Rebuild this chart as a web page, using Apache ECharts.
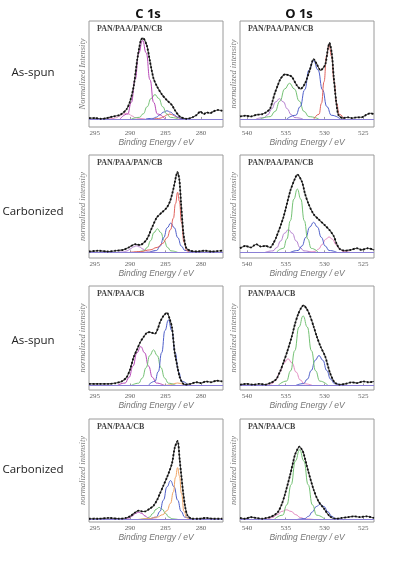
<!DOCTYPE html>
<html><head><meta charset="utf-8">
<script src="https://cdn.jsdelivr.net/npm/echarts@6/dist/echarts.min.js"></script>
<style>html,body{margin:0;padding:0;background:#fff}#c{width:396px;height:563px}</style>
</head><body><div id="c"></div>
<script>
// ---------- text ----------
const columnTitles = ['C 1s', 'O 1s'];
const rowLabels = ['As-spun', 'Carbonized', 'As-spun', 'Carbonized'];
const sampleLabels = ['PAN/PAA/PAN/CB', 'PAN/PAA/PAN/CB', 'PAN/PAA/CB', 'PAN/PAA/CB'];
const yTitles = ['Normalized Intensity', 'normalized intensity', 'normalized intensity', 'normalized intensity',
                 'normalized intensity', 'normalized intensity', 'normalized intensity', 'normalized intensity'];
const xTitle = 'Binding Energy / eV';
const c1sTicks = [280, 285, 290, 295];
const o1sTicks = [525, 530, 535, 540];
const c1sRange = [276.9, 295.8];
const o1sRange = [523.6, 540.9];

// ---------- panel 1 : C 1s, as-spun PAN/PAA/PAN/CB ----------
const p1Data = [[295.8,0.01],[295.0,0.01],[294.0,0.0],[293.3,0.01],[292.4,0.03],[291.4,0.05],[290.5,0.12],[290.0,0.22],[289.5,0.40],[289.0,0.73],[288.5,0.97],[288.2,1.0],[287.65,0.91],[287.2,0.71],[286.7,0.50],[286.2,0.40],[285.5,0.30],[284.8,0.23],[284.1,0.17],[283.7,0.11],[283.0,0.03],[282.0,0.0],[281.2,0.02],[280.6,0.05],[280.1,0.09],[279.6,0.06],[279.2,0.08],[278.7,0.07],[278.3,0.09],[277.6,0.11],[277.0,0.10]];
const p1Magenta = [[285.1,0],[286.15,0.061],[286.68,0.204],[287.2,0.485],[287.73,0.816],[288.25,0.97],[288.78,0.816],[289.3,0.485],[289.83,0.204],[290.35,0.061],[291.4,0]];
const p1Green = [[283.2,0],[284.3,0.019],[284.85,0.063],[285.4,0.15],[285.95,0.252],[286.5,0.30],[287.05,0.252],[287.6,0.15],[288.15,0.063],[288.7,0.019],[289.8,0]];
const p1Blue = [[281.8,0],[282.8,0.006],[283.3,0.021],[283.8,0.05],[284.3,0.084],[284.8,0.10],[285.3,0.084],[285.8,0.05],[286.3,0.021],[286.8,0.006],[287.8,0]];
const p1Red = [[282.0,0],[282.8,0.004],[283.2,0.013],[283.6,0.03],[284.0,0.05],[284.4,0.06],[284.8,0.05],[285.2,0.03],[285.6,0.013],[286.0,0.004],[286.8,0]];
const p1Pink = [[287.9,0],[288.8,0.004],[289.25,0.015],[289.7,0.035],[290.15,0.059],[290.6,0.07],[291.05,0.059],[291.5,0.035],[291.95,0.015],[292.4,0.004],[293.3,0]];

// ---------- panel 2 : O 1s, as-spun PAN/PAA/PAN/CB ----------
const p2Data = [[540.9,0.03],[540.2,0.04],[539.5,0.03],[538.8,0.05],[538.0,0.06],[537.4,0.09],[537.0,0.13],[536.7,0.22],[536.4,0.32],[536.0,0.42],[535.7,0.49],[535.1,0.55],[534.6,0.54],[534.2,0.52],[533.6,0.42],[533.1,0.37],[532.5,0.44],[531.9,0.60],[531.4,0.74],[531.0,0.68],[530.5,0.60],[529.9,0.67],[529.55,0.87],[529.35,0.94],[529.05,0.81],[528.8,0.52],[528.5,0.23],[528.2,0.05],[527.6,0.01],[527.0,0.02],[526.4,0.01],[525.8,0.02],[525.2,0.02],[524.6,0.05],[524.1,0.07],[523.6,0.06]];
const p2Red = [[527.45,0],[528.1,0.058],[528.43,0.193],[528.75,0.46],[529.08,0.774],[529.4,0.92],[529.73,0.774],[530.05,0.46],[530.38,0.193],[530.7,0.058],[531.35,0]];
const p2Blue = [[527.95,0],[529.1,0.045],[529.68,0.151],[530.25,0.36],[530.83,0.606],[531.4,0.72],[531.98,0.606],[532.55,0.36],[533.13,0.151],[533.7,0.045],[534.85,0]];
const p2Green = [[530.75,0],[532.0,0.028],[532.63,0.092],[533.25,0.22],[533.88,0.37],[534.5,0.44],[535.13,0.37],[535.75,0.22],[536.38,0.092],[537.0,0.028],[538.25,0]];
const p2Purple = [[532.8,0],[533.8,0.016],[534.3,0.053],[534.8,0.125],[535.3,0.21],[535.8,0.25],[536.3,0.21],[536.8,0.125],[537.3,0.053],[537.8,0.016],[538.8,0]];

// ---------- panel 3 : C 1s, carbonized PAN/PAA/PAN/CB ----------
const p3Data = [[295.8,0.01],[294.5,0.02],[293.2,0.01],[292.0,0.02],[291.0,0.03],[290.2,0.06],[289.3,0.10],[288.6,0.09],[287.65,0.16],[286.94,0.30],[286.24,0.43],[285.54,0.49],[284.83,0.55],[284.37,0.63],[283.9,0.78],[283.52,0.94],[283.34,0.99],[283.06,0.90],[282.82,0.61],[282.49,0.24],[282.11,0.06],[281.55,0.02],[280.5,0.01],[279.5,0.02],[278.5,0.01],[277.0,0.02]];
const p3Red = [[281.6,0],[282.0,0.02],[282.4,0.12],[282.75,0.37],[283.05,0.63],[283.3,0.74],[283.6,0.6],[283.9,0.42],[284.3,0.28],[284.8,0.18],[285.4,0.11],[286.2,0.06],[287.2,0.03],[288.5,0.01],[290.0,0]];
const p3Blue = [[281.27,0],[282.27,0.023],[282.77,0.076],[283.27,0.18],[283.77,0.303],[284.27,0.36],[284.77,0.303],[285.27,0.18],[285.77,0.076],[286.27,0.023],[287.27,0]];
const p3Green = [[283.3,0],[284.25,0.018],[284.73,0.061],[285.2,0.145],[285.68,0.244],[286.15,0.29],[286.63,0.244],[287.1,0.145],[287.58,0.061],[288.05,0.018],[289.0,0]];
const p3Purple = [[286.4,0],[287.3,0.005],[287.75,0.017],[288.2,0.04],[288.65,0.067],[289.1,0.08],[289.55,0.067],[290.0,0.04],[290.45,0.017],[290.9,0.005],[291.8,0]];

// ---------- panel 4 : O 1s, carbonized PAN/PAA/PAN/CB ----------
const p4Data = [[540.9,0.05],[540.2,0.08],[539.5,0.06],[538.8,0.1],[538.2,0.07],[537.6,0.08],[537.0,0.06],[536.6,0.11],[536.2,0.19],[535.3,0.43],[534.4,0.76],[533.8,0.91],[533.5,0.96],[532.9,0.87],[532.5,0.72],[532.07,0.6],[531.4,0.47],[530.78,0.41],[529.9,0.33],[529.3,0.27],[528.8,0.2],[528.4,0.1],[528.0,0.04],[527.4,0.02],[526.6,0.03],[525.8,0.05],[525.2,0.03],[524.4,0.05],[523.6,0.03]];
const p4Green = [[530.8,0],[531.7,0.049],[532.15,0.164],[532.6,0.39],[533.05,0.656],[533.5,0.78],[533.95,0.656],[534.4,0.39],[534.85,0.164],[535.3,0.049],[536.2,0]];
const p4Purple = [[531.65,0],[532.65,0.018],[533.15,0.059],[533.65,0.14],[534.15,0.235],[534.65,0.28],[535.15,0.235],[535.65,0.14],[536.15,0.059],[536.65,0.018],[537.65,0]];
const p4Blue = [[528.4,0],[529.4,0.023],[529.9,0.078],[530.4,0.185],[530.9,0.311],[531.4,0.37],[531.9,0.311],[532.4,0.185],[532.9,0.078],[533.4,0.023],[534.4,0]];
const p4Pink = [[526.7,0],[527.6,0.012],[528.05,0.04],[528.5,0.095],[528.95,0.16],[529.4,0.19],[529.85,0.16],[530.3,0.095],[530.75,0.04],[531.2,0.012],[532.1,0]];

// ---------- panel 5 : C 1s, as-spun PAN/PAA/CB ----------
const p5Data = [[295.8,0.02],[294.5,0.02],[293.0,0.02],[292.0,0.03],[291.2,0.05],[290.5,0.1],[290.0,0.2],[289.5,0.35],[289.0,0.45],[288.6,0.53],[288.1,0.6],[287.65,0.65],[287.2,0.66],[286.85,0.65],[286.5,0.64],[286.1,0.7],[285.8,0.78],[285.3,0.86],[284.8,0.9],[284.45,0.83],[284.1,0.72],[283.7,0.4],[283.3,0.22],[283.0,0.1],[282.6,0.03],[282.3,0.01],[281.5,0.02],[280.7,0.04],[280.0,0.03],[279.3,0.05],[278.6,0.04],[277.8,0.06],[277.0,0.05]];
const p5Blue = [[281.75,0],[282.7,0.051],[283.18,0.17],[283.65,0.405],[284.13,0.681],[284.6,0.81],[285.08,0.681],[285.55,0.405],[286.03,0.17],[286.5,0.051],[287.45,0]];
const p5Green = [[283.55,0],[284.6,0.028],[285.13,0.092],[285.65,0.22],[286.18,0.37],[286.7,0.44],[287.23,0.37],[287.75,0.22],[288.28,0.092],[288.8,0.028],[289.85,0]];
const p5Magenta = [[285.2,0],[286.3,0.03],[286.85,0.1],[287.4,0.24],[287.95,0.404],[288.5,0.48],[289.05,0.404],[289.6,0.24],[290.15,0.1],[290.7,0.03],[291.8,0]];
const p5Orange = [[280.9,0],[281.7,0.002],[282.1,0.006],[282.5,0.015],[282.9,0.025],[283.3,0.03],[283.7,0.025],[284.1,0.015],[284.5,0.006],[284.9,0.002],[285.7,0]];

// ---------- panel 6 : O 1s, as-spun PAN/PAA/CB ----------
const p6Data = [[540.9,0.01],[540.0,0.02],[539.2,0.01],[538.4,0.02],[537.6,0.01],[537.0,0.03],[536.6,0.05],[536.2,0.08],[535.7,0.18],[535.3,0.28],[534.8,0.42],[534.2,0.61],[533.8,0.76],[533.4,0.88],[533.0,0.96],[532.7,0.99],[532.3,0.95],[531.85,0.86],[531.4,0.73],[531.0,0.61],[530.5,0.48],[529.9,0.36],[529.3,0.16],[528.9,0.07],[528.6,0.03],[528.0,0.01],[527.3,0.02],[526.5,0.04],[525.8,0.03],[525.0,0.05],[524.3,0.04],[523.6,0.05]];
const p6Green = [[529.53,0],[530.6,0.054],[531.14,0.181],[531.68,0.43],[532.21,0.723],[532.75,0.86],[533.29,0.723],[533.83,0.43],[534.36,0.181],[534.9,0.054],[535.98,0]];
const p6Magenta = [[531.55,0],[532.6,0.021],[533.13,0.069],[533.65,0.165],[534.18,0.278],[534.7,0.33],[535.23,0.278],[535.75,0.165],[536.28,0.069],[536.8,0.021],[537.85,0]];
const p6Blue = [[527.7,0],[528.7,0.023],[529.2,0.078],[529.7,0.185],[530.2,0.311],[530.7,0.37],[531.2,0.311],[531.7,0.185],[532.2,0.078],[532.7,0.023],[533.7,0]];

// ---------- panel 7 : C 1s, carbonized PAN/PAA/CB ----------
const p7Data = [[295.8,0.01],[294.5,0.01],[293.0,0.02],[291.5,0.01],[290.6,0.02],[290.0,0.04],[289.4,0.08],[288.8,0.11],[288.3,0.1],[287.9,0.1],[287.3,0.13],[286.7,0.17],[286.2,0.24],[285.8,0.32],[285.3,0.42],[284.8,0.52],[284.1,0.69],[283.7,0.89],[283.3,0.97],[283.0,0.73],[282.75,0.52],[282.5,0.32],[282.2,0.14],[281.9,0.05],[281.3,0.01],[280.3,0.01],[279.3,0.02],[278.3,0.01],[277.0,0.01]];
const p7Orange = [[281.6,0],[282.0,0.02],[282.4,0.1],[282.75,0.32],[283.05,0.54],[283.3,0.64],[283.6,0.52],[283.9,0.34],[284.3,0.2],[284.8,0.11],[285.4,0.06],[286.2,0.03],[287.5,0.01],[289.0,0]];
const p7Blue = [[281.3,0],[282.3,0.03],[282.8,0.101],[283.3,0.24],[283.8,0.404],[284.3,0.48],[284.8,0.404],[285.3,0.24],[285.8,0.101],[286.3,0.03],[287.3,0]];
const p7Green = [[283.2,0],[284.1,0.009],[284.55,0.032],[285.0,0.075],[285.45,0.126],[285.9,0.15],[286.35,0.126],[286.8,0.075],[287.25,0.032],[287.7,0.009],[288.6,0]];
const p7Magenta = [[286.1,0],[287.0,0.006],[287.45,0.019],[287.9,0.045],[288.35,0.076],[288.8,0.09],[289.25,0.076],[289.7,0.045],[290.15,0.019],[290.6,0.006],[291.5,0]];

// ---------- panel 8 : O 1s, carbonized PAN/PAA/CB ----------
const p8Data = [[540.9,0.02],[540.2,0.01],[539.5,0.03],[538.8,0.02],[538.0,0.01],[537.5,0.02],[537.0,0.03],[536.4,0.06],[535.95,0.1],[535.5,0.19],[535.1,0.31],[534.4,0.56],[533.8,0.8],[533.4,0.88],[533.2,0.9],[532.9,0.86],[532.7,0.82],[532.1,0.6],[531.4,0.37],[530.8,0.23],[530.1,0.14],[529.3,0.04],[528.5,0.01],[527.8,0.02],[527.0,0.03],[526.2,0.04],[525.4,0.03],[524.6,0.04],[523.6,0.02]];
const p8Green = [[529.9,0],[531.0,0.054],[531.55,0.181],[532.1,0.43],[532.65,0.723],[533.2,0.86],[533.75,0.723],[534.3,0.43],[534.85,0.181],[535.4,0.054],[536.5,0]];
const p8Magenta = [[531.3,0],[532.5,0.008],[533.1,0.025],[533.7,0.06],[534.3,0.101],[534.9,0.12],[535.5,0.101],[536.1,0.06],[536.7,0.025],[537.3,0.008],[538.5,0]];
const p8Blue = [[527.55,0],[528.55,0.012],[529.05,0.04],[529.55,0.095],[530.05,0.16],[530.55,0.19],[531.05,0.16],[531.55,0.095],[532.05,0.04],[532.55,0.012],[533.55,0]];

// ---------- styles / layout ----------
const COL = {magenta:'#b848b8', purple:'#b47fcf', pink:'#e58cc2', green:'#74c274', blue:'#4f5fca', red:'#e2625c', orange:'#f0a464'};
const colLeft = [89, 240], colWidth = 134;
const rowTop = [21, 155, 286, 419], rowHeight = [106, 103, 104, 103];
const rowYMin = [-0.1, -0.07, -0.056, -0.03], rowYMax = [1.21, 1.2, 1.23, 1.24];
const rowLabelY = [73, 212, 341, 470];

const panels = [
  {row:0, col:0, data:p1Data, comps:[[p1Pink,'pink'],[p1Red,'red'],[p1Blue,'blue'],[p1Green,'green'],[p1Magenta,'magenta']]},
  {row:0, col:1, data:p2Data, comps:[[p2Purple,'purple'],[p2Green,'green'],[p2Blue,'blue'],[p2Red,'red']]},
  {row:1, col:0, data:p3Data, comps:[[p3Purple,'purple'],[p3Green,'green'],[p3Blue,'blue'],[p3Red,'red']]},
  {row:1, col:1, data:p4Data, comps:[[p4Purple,'purple'],[p4Pink,'pink'],[p4Blue,'blue'],[p4Green,'green']]},
  {row:2, col:0, data:p5Data, comps:[[p5Orange,'orange'],[p5Magenta,'magenta'],[p5Green,'green'],[p5Blue,'blue']]},
  {row:2, col:1, data:p6Data, comps:[[p6Magenta,'pink'],[p6Blue,'blue'],[p6Green,'green']]},
  {row:3, col:0, data:p7Data, comps:[[p7Magenta,'magenta'],[p7Green,'green'],[p7Blue,'blue'],[p7Orange,'orange']]},
  {row:3, col:1, data:p8Data, comps:[[p8Magenta,'pink'],[p8Blue,'blue'],[p8Green,'green']]}
];

const grid = [], xAxis = [], yAxis = [], series = [], graphic = [];
panels.forEach((p, i) => {
  grid.push({left: colLeft[p.col], top: rowTop[p.row], width: colWidth, height: rowHeight[p.row],
    show: true, borderColor: '#9a9a9a', borderWidth: 1, backgroundColor: '#fff'});
  const rng = p.col === 0 ? c1sRange : o1sRange;
  const ticks = p.col === 0 ? c1sTicks : o1sTicks;
  xAxis.push({type: 'value', gridIndex: i, min: rng[0], max: rng[1], inverse: true,
    axisLine: {show: false}, splitLine: {show: false},
    axisTick: {show: true, inside: true, length: 2, customValues: ticks, lineStyle: {color: '#999'}},
    axisLabel: {customValues: ticks, margin: 3, fontFamily: 'Liberation Serif', fontSize: 7, color: '#666'},
    name: xTitle, nameLocation: 'middle', nameGap: 11,
    nameTextStyle: {fontFamily: 'Liberation Sans', fontStyle: 'italic', fontSize: 8.5, color: '#777'}});
  yAxis.push({type: 'value', gridIndex: i, min: rowYMin[p.row], max: rowYMax[p.row],
    axisLine: {show: false}, axisTick: {show: false}, axisLabel: {show: false}, splitLine: {show: false},
    name: yTitles[i], nameLocation: 'middle', nameGap: 2, nameRotate: 90,
    nameTextStyle: {fontFamily: 'Liberation Serif', fontStyle: 'italic', fontSize: 8.5, color: '#7a7a7a'}});
  p.comps.forEach((c, k) => {
    const s = {type: 'line', xAxisIndex: i, yAxisIndex: i, data: c[0], smooth: 0.5, smoothMonotone: 'x',
      showSymbol: false, silent: true, z: 2, lineStyle: {color: COL[c[1]], width: 1}};
    if (k === 0) {
      s.markLine = {silent: true, symbol: 'none', label: {show: false},
        lineStyle: {color: '#8a7fd6', width: 1, type: 'solid'}, data: [{yAxis: 0}]};
    }
    series.push(s);
  });
  series.push({type: 'line', xAxisIndex: i, yAxisIndex: i, data: p.data, smooth: 0.25,
    showSymbol: false, silent: true, z: 4, lineStyle: {color: '#444', width: 1.1}});
  series.push({type: 'line', xAxisIndex: i, yAxisIndex: i, data: p.data, smooth: 0.25,
    showSymbol: false, silent: true, z: 5, lineStyle: {color: '#111', width: 1.8, type: 'dotted'}});
  graphic.push({type: 'text', x: colLeft[p.col] + 8, y: rowTop[p.row] + 8,
    style: {text: sampleLabels[p.row], font: 'bold 8px "Liberation Serif"', fill: '#444',
      textAlign: 'left', align: 'left', textVerticalAlign: 'middle', verticalAlign: 'middle'}});
});
columnTitles.forEach((t, c) => {
  graphic.push({type: 'text', x: colLeft[c] + colWidth / 2 - 8, y: 14,
    style: {text: t, font: 'bold 13px "Open Sans"', fill: '#111',
      textAlign: 'center', align: 'center', textVerticalAlign: 'middle', verticalAlign: 'middle'}});
});
rowLabels.forEach((t, r) => {
  graphic.push({type: 'text', x: 33, y: rowLabelY[r],
    style: {text: t, font: '11.5px "Open Sans"', fill: '#222',
      textAlign: 'center', align: 'center', textVerticalAlign: 'middle', verticalAlign: 'middle'}});
});

const chart = echarts.init(document.getElementById('c'), null, {renderer: 'canvas'});
chart.setOption({animation: false, backgroundColor: '#fff', grid, xAxis, yAxis, series, graphic});
</script>
</body></html>
